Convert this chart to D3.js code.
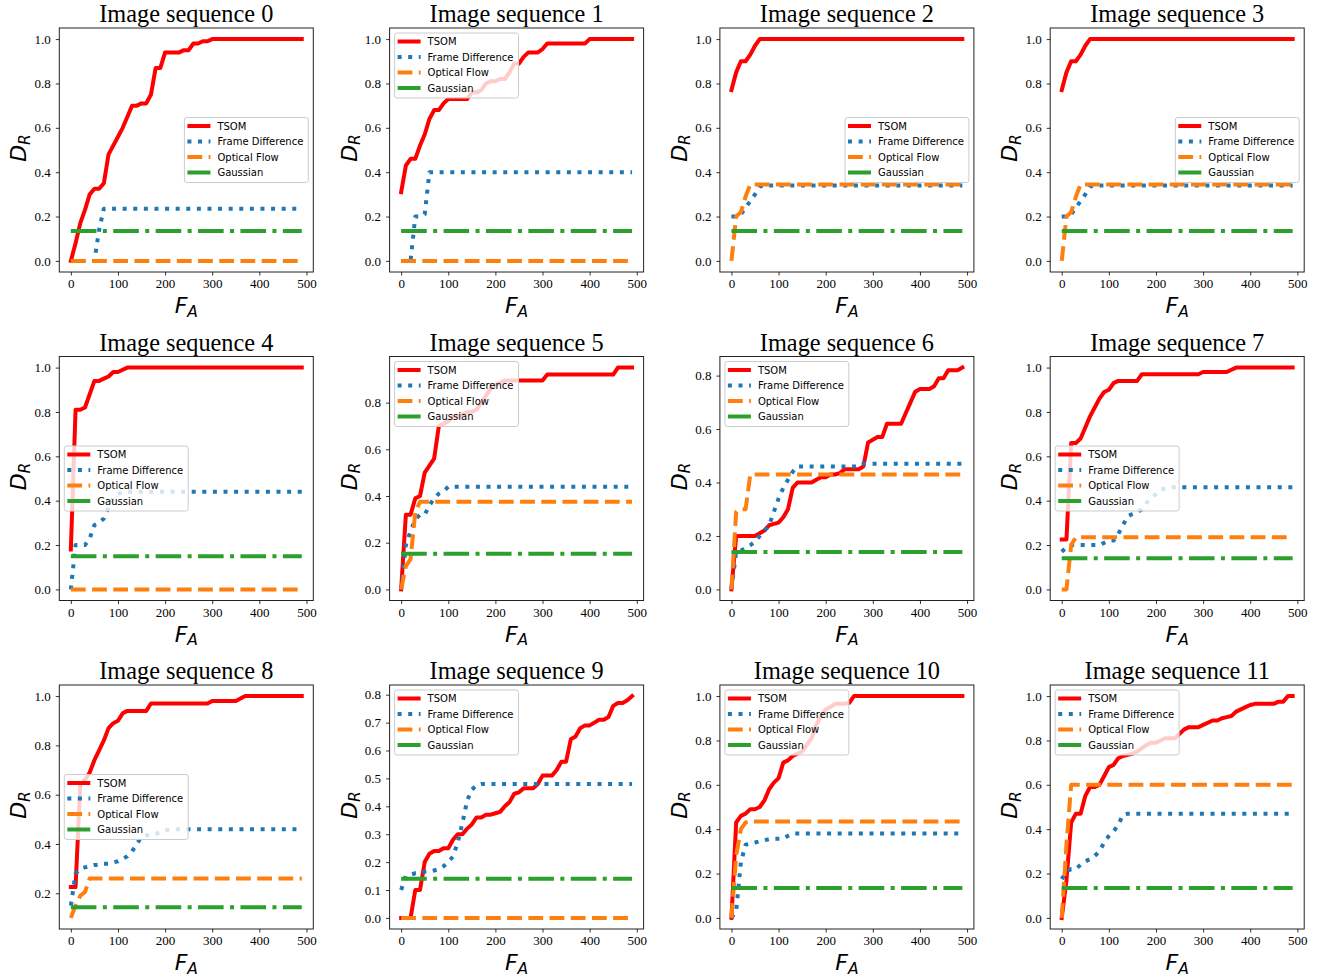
<!DOCTYPE html>
<html><head><meta charset="utf-8">
<script src="https://cdn.jsdelivr.net/npm/d3@7"></script>
<style>body{margin:0;background:#fff}svg{display:block}
.tick text{font-family:"Liberation Serif","Times New Roman",serif;font-size:13px}</style>
</head><body>
<svg id="chart" width="1329" height="979"></svg>
<script>
// ---------------- DATA ----------------
const fa = [0,10,20,30,40,50,60,70,80,90,100,110,120,130,140,150,160,170,180,190,
  200,210,220,230,240,250,260,270,280,290,300,310,320,330,340,350,360,370,380,390,
  400,410,420,430,440,450,460,470,480,490];

const titles = ["Image sequence 0","Image sequence 1","Image sequence 2","Image sequence 3",
  "Image sequence 4","Image sequence 5","Image sequence 6","Image sequence 7",
  "Image sequence 8","Image sequence 9","Image sequence 10","Image sequence 11"];

const seriesNames = ["TSOM","Frame Difference","Optical Flow","Gaussian"];

const tsom = [
 [0,0.08,0.17,0.23,0.30,0.325,0.325,0.35,0.48,0.52,
  0.56,0.60,0.65,0.70,0.70,0.71,0.71,0.75,0.87,0.87,
  0.94,0.94,0.94,0.94,0.95,0.95,0.98,0.98,0.99,0.99,
  1,1,1,1,1,1,1,1,1,1, 1,1,1,1,1,1,1,1,1,1],
 [0.31,0.43,0.46,0.46,0.52,0.57,0.64,0.68,0.68,0.71,
  0.73,0.73,0.73,0.73,0.73,0.76,0.76,0.77,0.80,0.81,
  0.81,0.82,0.82,0.85,0.89,0.89,0.92,0.94,0.94,0.94,
  0.955,0.98,0.98,0.98,0.98,0.98,0.98,0.98,0.98,0.98,
  1,1,1,1,1,1,1,1,1,1],
 [0.77,0.85,0.90,0.90,0.93,0.97,1,1,1,1, 1,1,1,1,1,1,1,1,1,1,
  1,1,1,1,1,1,1,1,1,1, 1,1,1,1,1,1,1,1,1,1, 1,1,1,1,1,1,1,1,1,1],
 [0.77,0.85,0.90,0.90,0.93,0.97,1,1,1,1, 1,1,1,1,1,1,1,1,1,1,
  1,1,1,1,1,1,1,1,1,1, 1,1,1,1,1,1,1,1,1,1, 1,1,1,1,1,1,1,1,1,1],
 [0.18,0.81,0.81,0.82,0.88,0.94,0.94,0.95,0.96,0.98,
  0.98,0.99,1,1,1,1,1,1,1,1, 1,1,1,1,1,1,1,1,1,1,
  1,1,1,1,1,1,1,1,1,1, 1,1,1,1,1,1,1,1,1,1],
 [0,0.32,0.32,0.39,0.40,0.50,0.53,0.56,0.70,0.71,
  0.72,0.74,0.74,0.75,0.76,0.76,0.77,0.80,0.83,0.86,
  0.875,0.885,0.895,0.895,0.895,0.895,0.895,0.895,0.895,0.895,
  0.895,0.92,0.92,0.92,0.92,0.92,0.92,0.92,0.92,0.92,
  0.92,0.92,0.92,0.92,0.92,0.92,0.95,0.95,0.95,0.95],
 [0,0.20,0.20,0.20,0.20,0.20,0.21,0.22,0.24,0.245,
  0.25,0.27,0.30,0.38,0.40,0.40,0.40,0.40,0.41,0.42,
  0.42,0.43,0.43,0.435,0.45,0.45,0.45,0.45,0.46,0.55,
  0.56,0.57,0.57,0.62,0.62,0.62,0.62,0.66,0.70,0.74,
  0.75,0.75,0.75,0.76,0.79,0.79,0.82,0.82,0.82,0.83],
 [0.225,0.225,0.66,0.66,0.68,0.73,0.78,0.82,0.86,0.89,
  0.90,0.93,0.94,0.94,0.94,0.94,0.94,0.97,0.97,0.97,
  0.97,0.97,0.97,0.97,0.97,0.97,0.97,0.97,0.97,0.97,
  0.98,0.98,0.98,0.98,0.98,0.98,0.99,1,1,1,
  1,1,1,1,1,1,1,1,1,1],
 [0.225,0.225,0.64,0.66,0.69,0.74,0.78,0.82,0.87,0.89,
  0.90,0.93,0.94,0.94,0.94,0.94,0.94,0.97,0.97,0.97,
  0.97,0.97,0.97,0.97,0.97,0.97,0.97,0.97,0.97,0.97,
  0.98,0.98,0.98,0.98,0.98,0.98,0.99,1,1,1,
  1,1,1,1,1,1,1,1,1,1],
 [0,0,0,0.10,0.10,0.20,0.23,0.24,0.24,0.25,
  0.25,0.28,0.30,0.30,0.32,0.335,0.36,0.36,0.37,0.37,
  0.375,0.38,0.40,0.415,0.445,0.45,0.465,0.465,0.465,0.48,
  0.51,0.51,0.51,0.53,0.56,0.56,0.64,0.65,0.68,0.69,
  0.69,0.70,0.71,0.71,0.72,0.76,0.77,0.77,0.78,0.795],
 [0,0.43,0.46,0.47,0.49,0.49,0.50,0.53,0.58,0.61,
  0.63,0.70,0.71,0.73,0.74,0.75,0.78,0.81,0.87,0.91,
  0.94,0.95,0.965,0.965,0.965,0.97,1,1,1,1,
  1,1,1,1,1,1,1,1,1,1, 1,1,1,1,1,1,1,1,1,1],
 [0,0.17,0.43,0.47,0.47,0.55,0.59,0.59,0.60,0.64,
  0.68,0.69,0.72,0.73,0.735,0.74,0.75,0.765,0.78,0.79,
  0.79,0.80,0.81,0.81,0.81,0.83,0.85,0.86,0.86,0.86,
  0.87,0.88,0.89,0.89,0.90,0.905,0.91,0.93,0.94,0.95,
  0.96,0.965,0.965,0.965,0.965,0.965,0.975,0.975,1,1]
];

const frameDiff = [
 [0,0,0,0,0,0,0.14,0.235,0.235,0.235,
  0.235,0.235,0.235,0.235,0.235,0.235,0.235,0.235,0.235,0.235,
  0.235,0.235,0.235,0.235,0.235,0.235,0.235,0.235,0.235,0.235,
  0.235,0.235,0.235,0.235,0.235,0.235,0.235,0.235,0.235,0.235,
  0.235,0.235,0.235,0.235,0.235,0.235,0.235,0.235,0.235,0.235],
 [0,0,0,0.20,0.20,0.21,0.40,0.40,0.40,0.40,
  0.40,0.40,0.40,0.40,0.40,0.40,0.40,0.40,0.40,0.40,
  0.40,0.40,0.40,0.40,0.40,0.40,0.40,0.40,0.40,0.40,
  0.40,0.40,0.40,0.40,0.40,0.40,0.40,0.40,0.40,0.40,
  0.40,0.40,0.40,0.40,0.40,0.40,0.40,0.40,0.40,0.40],
 [0.20,0.20,0.21,0.24,0.27,0.30,0.335,0.34,0.34,0.34,
  0.34,0.34,0.34,0.34,0.34,0.34,0.34,0.34,0.34,0.34,
  0.34,0.34,0.34,0.34,0.34,0.34,0.34,0.34,0.34,0.34,
  0.34,0.34,0.34,0.34,0.34,0.34,0.34,0.34,0.34,0.34,
  0.34,0.34,0.34,0.34,0.34,0.34,0.34,0.34,0.34,0.34],
 [0.20,0.20,0.21,0.24,0.27,0.30,0.335,0.34,0.34,0.34,
  0.34,0.34,0.34,0.34,0.34,0.34,0.34,0.34,0.34,0.34,
  0.34,0.34,0.34,0.34,0.34,0.34,0.34,0.34,0.34,0.34,
  0.34,0.34,0.34,0.34,0.34,0.34,0.34,0.34,0.34,0.34,
  0.34,0.34,0.34,0.34,0.34,0.34,0.34,0.34,0.34,0.34],
 [0,0.20,0.20,0.20,0.23,0.29,0.30,0.32,0.37,0.41,
  0.43,0.44,0.44,0.44,0.44,0.44,0.44,0.44,0.44,0.44,
  0.44,0.44,0.44,0.44,0.44,0.44,0.44,0.44,0.44,0.44,
  0.44,0.44,0.44,0.44,0.44,0.44,0.44,0.44,0.44,0.44,
  0.44,0.44,0.44,0.44,0.44,0.44,0.44,0.44,0.44,0.44],
 [0,0.19,0.25,0.30,0.32,0.32,0.36,0.39,0.41,0.42,
  0.44,0.44,0.44,0.44,0.44,0.44,0.44,0.44,0.44,0.44,
  0.44,0.44,0.44,0.44,0.44,0.44,0.44,0.44,0.44,0.44,
  0.44,0.44,0.44,0.44,0.44,0.44,0.44,0.44,0.44,0.44,
  0.44,0.44,0.44,0.44,0.44,0.44,0.44,0.44,0.44,0.44],
 [0,0.14,0.145,0.155,0.165,0.18,0.20,0.22,0.24,0.29,
  0.34,0.38,0.41,0.44,0.46,0.46,0.46,0.46,0.46,0.46,
  0.46,0.46,0.46,0.46,0.46,0.46,0.46,0.46,0.47,0.47,
  0.47,0.47,0.47,0.47,0.47,0.47,0.47,0.47,0.47,0.47,
  0.47,0.47,0.47,0.47,0.47,0.47,0.47,0.47,0.47,0.47],
 [0.17,0.19,0.20,0.20,0.20,0.20,0.20,0.20,0.20,0.21,
  0.22,0.22,0.25,0.29,0.33,0.34,0.35,0.36,0.39,0.41,
  0.43,0.45,0.455,0.46,0.46,0.46,0.46,0.46,0.46,0.46,
  0.46,0.46,0.46,0.46,0.46,0.46,0.46,0.46,0.46,0.46,
  0.46,0.46,0.46,0.46,0.46,0.46,0.46,0.46,0.46,0.46],
 [0.15,0.28,0.30,0.305,0.31,0.315,0.315,0.32,0.32,0.325,
  0.33,0.34,0.35,0.37,0.40,0.43,0.435,0.435,0.44,0.45,
  0.455,0.46,0.46,0.46,0.46,0.46,0.46,0.46,0.46,0.46,
  0.46,0.46,0.46,0.46,0.46,0.46,0.46,0.46,0.46,0.46,
  0.46,0.46,0.46,0.46,0.46,0.46,0.46,0.46,0.46,0.46],
 [0.10,0.15,0.155,0.16,0.16,0.165,0.165,0.17,0.175,0.185,
  0.20,0.22,0.27,0.34,0.42,0.46,0.475,0.48,0.48,0.48,
  0.48,0.48,0.48,0.48,0.48,0.48,0.48,0.48,0.48,0.48,
  0.48,0.48,0.48,0.48,0.48,0.48,0.48,0.48,0.48,0.48,
  0.48,0.48,0.48,0.48,0.48,0.48,0.48,0.48,0.48,0.48],
 [0,0.03,0.25,0.33,0.335,0.34,0.345,0.35,0.355,0.357,
  0.357,0.357,0.37,0.38,0.38,0.38,0.38,0.38,0.38,0.38,
  0.38,0.38,0.38,0.38,0.38,0.38,0.38,0.38,0.38,0.38,
  0.38,0.38,0.38,0.38,0.38,0.38,0.38,0.38,0.38,0.38,
  0.38,0.38,0.38,0.38,0.38,0.38,0.38,0.38,0.38,0.38],
 [0.175,0.21,0.22,0.22,0.24,0.255,0.265,0.28,0.30,0.34,
  0.37,0.39,0.42,0.465,0.47,0.47,0.47,0.47,0.47,0.47,
  0.47,0.47,0.47,0.47,0.47,0.47,0.47,0.47,0.47,0.47,
  0.47,0.47,0.47,0.47,0.47,0.47,0.47,0.47,0.47,0.47,
  0.47,0.47,0.47,0.47,0.47,0.47,0.47,0.47,0.47,0.47]
];

const opticalFlow = [
 [0,0,0,0,0,0,0,0,0,0, 0,0,0,0,0,0,0,0,0,0, 0,0,0,0,0,0,0,0,0,0, 0,0,0,0,0,0,0,0,0,0, 0,0,0,0,0,0,0,0,0,0],
 [0,0,0,0,0,0,0,0,0,0, 0,0,0,0,0,0,0,0,0,0, 0,0,0,0,0,0,0,0,0,0, 0,0,0,0,0,0,0,0,0,0, 0,0,0,0,0,0,0,0,0,0],
 [0,0.20,0.22,0.29,0.345,0.345,0.345,0.345,0.345,0.345,
  0.345,0.345,0.345,0.345,0.345,0.345,0.345,0.345,0.345,0.345,
  0.345,0.345,0.345,0.345,0.345,0.345,0.345,0.345,0.345,0.345,
  0.345,0.345,0.345,0.345,0.345,0.345,0.345,0.345,0.345,0.345,
  0.345,0.345,0.345,0.345,0.345,0.345,0.345,0.345,0.345,0.345],
 [0,0.20,0.22,0.29,0.345,0.345,0.345,0.345,0.345,0.345,
  0.345,0.345,0.345,0.345,0.345,0.345,0.345,0.345,0.345,0.345,
  0.345,0.345,0.345,0.345,0.345,0.345,0.345,0.345,0.345,0.345,
  0.345,0.345,0.345,0.345,0.345,0.345,0.345,0.345,0.345,0.345,
  0.345,0.345,0.345,0.345,0.345,0.345,0.345,0.345,0.345,0.345],
 [0,0,0,0,0,0,0,0,0,0, 0,0,0,0,0,0,0,0,0,0, 0,0,0,0,0,0,0,0,0,0, 0,0,0,0,0,0,0,0,0,0, 0,0,0,0,0,0,0,0,0,0],
 [0,0.10,0.13,0.33,0.375,0.375,0.375,0.375,0.375,0.375,
  0.375,0.375,0.375,0.375,0.375,0.375,0.375,0.375,0.375,0.375,
  0.375,0.375,0.375,0.375,0.375,0.375,0.375,0.375,0.375,0.375,
  0.375,0.375,0.375,0.375,0.375,0.375,0.375,0.375,0.375,0.375,
  0.375,0.375,0.375,0.375,0.375,0.375,0.375,0.375,0.375,0.375],
 [0,0.29,0.30,0.30,0.43,0.43,0.43,0.43,0.43,0.43,
  0.43,0.43,0.43,0.43,0.43,0.43,0.43,0.43,0.43,0.43,
  0.43,0.43,0.43,0.43,0.43,0.43,0.43,0.43,0.43,0.43,
  0.43,0.43,0.43,0.43,0.43,0.43,0.43,0.43,0.43,0.43,
  0.43,0.43,0.43,0.43,0.43,0.43,0.43,0.43,0.43,0.43],
 [0,0,0.20,0.235,0.235,0.235,0.235,0.235,0.235,0.235,
  0.235,0.235,0.235,0.235,0.235,0.235,0.235,0.235,0.235,0.235,
  0.235,0.235,0.235,0.235,0.235,0.235,0.235,0.235,0.235,0.235,
  0.235,0.235,0.235,0.235,0.235,0.235,0.235,0.235,0.235,0.235,
  0.235,0.235,0.235,0.235,0.235,0.235,0.235,0.235,0.235,0.235],
 [0.10,0.15,0.19,0.205,0.26,0.26,0.26,0.26,0.26,0.26,
  0.26,0.26,0.26,0.26,0.26,0.26,0.26,0.26,0.26,0.26,
  0.26,0.26,0.26,0.26,0.26,0.26,0.26,0.26,0.26,0.26,
  0.26,0.26,0.26,0.26,0.26,0.26,0.26,0.26,0.26,0.26,
  0.26,0.26,0.26,0.26,0.26,0.26,0.26,0.26,0.26,0.26],
 [0,0,0,0,0,0,0,0,0,0, 0,0,0,0,0,0,0,0,0,0, 0,0,0,0,0,0,0,0,0,0, 0,0,0,0,0,0,0,0,0,0, 0,0,0,0,0,0,0,0,0,0],
 [0,0.28,0.40,0.43,0.435,0.435,0.435,0.435,0.435,0.435,
  0.435,0.435,0.435,0.435,0.435,0.435,0.435,0.435,0.435,0.435,
  0.435,0.435,0.435,0.435,0.435,0.435,0.435,0.435,0.435,0.435,
  0.435,0.435,0.435,0.435,0.435,0.435,0.435,0.435,0.435,0.435,
  0.435,0.435,0.435,0.435,0.435,0.435,0.435,0.435,0.435,0.435],
 [0,0.33,0.60,0.60,0.60,0.60,0.60,0.60,0.60,0.60,
  0.60,0.60,0.60,0.60,0.60,0.60,0.60,0.60,0.60,0.60,
  0.60,0.60,0.60,0.60,0.60,0.60,0.60,0.60,0.60,0.60,
  0.60,0.60,0.60,0.60,0.60,0.60,0.60,0.60,0.60,0.60,
  0.60,0.60,0.60,0.60,0.60,0.60,0.60,0.60,0.60,0.60]
];

// Gaussian baseline: constant detection rate per sequence
const gaussianLevel = [0.135,0.135,0.135,0.135,0.15,0.153,0.14,0.14,0.143,0.14,0.135,0.135];

const xTickValues = [0,100,200,300,400,500];
const yTickValues = [
 [0,0.2,0.4,0.6,0.8,1.0],[0,0.2,0.4,0.6,0.8,1.0],[0,0.2,0.4,0.6,0.8,1.0],[0,0.2,0.4,0.6,0.8,1.0],
 [0,0.2,0.4,0.6,0.8,1.0],[0,0.2,0.4,0.6,0.8],[0,0.2,0.4,0.6,0.8],[0,0.2,0.4,0.6,0.8,1.0],
 [0.2,0.4,0.6,0.8,1.0],[0,0.1,0.2,0.3,0.4,0.5,0.6,0.7,0.8],[0,0.2,0.4,0.6,0.8,1.0],[0,0.2,0.4,0.6,0.8,1.0]
];

const legendLoc = ["center right","upper left","center right","center right",
  "center left","upper left","upper left","center left",
  "center left","upper left","upper left","upper left"];

// ---------------- LAYOUT / STYLE ----------------
const colors = ["#ff0000","#1f77b4","#ff7f0e","#2ca02c"];
const dashes = [null,"4 6.6","14.8 6.4","25.6 6.4 4 6.4"];
const LW = 4;
const W = 254, H = 244;
const lefts = [59.3, 389.6, 719.9, 1050.2];
const tops = [28, 356.5, 685];
const SERIF = "'Liberation Serif','Times New Roman',serif";

const svg = d3.select("#chart");

// measure legend text width
const meas = svg.append("text").attr("font-family","DejaVu Sans").attr("font-size",10).text("Frame Difference");
const legTextW = meas.node().getComputedTextLength();
meas.remove();

titles.forEach((title, i) => {
  const r = Math.floor(i / 4), c = i % 4;
  const g = svg.append("g").attr("transform", `translate(${lefts[c]},${tops[r]})`);

  const pts = [
    fa.map((x, k) => [x, tsom[i][k]]),
    fa.map((x, k) => [x, frameDiff[i][k]]),
    fa.map((x, k) => [x, opticalFlow[i][k]]),
    [[fa[0], gaussianLevel[i]], [fa[fa.length - 1], gaussianLevel[i]]]
  ];
  const allY = pts.flat().map(d => d[1]);
  const yMin = d3.min(allY), yMax = d3.max(allY);
  const xMin = fa[0], xMax = fa[fa.length - 1];
  const xs = d3.scaleLinear().domain([xMin - 0.05*(xMax-xMin), xMax + 0.05*(xMax-xMin)]).range([0, W]);
  const ys = d3.scaleLinear().domain([yMin - 0.05*(yMax-yMin), yMax + 0.05*(yMax-yMin)]).range([H, 0]);

  const clipId = "clip" + i;
  g.append("clipPath").attr("id", clipId).append("rect").attr("width", W).attr("height", H);

  const line = d3.line().x(d => xs(d[0])).y(d => ys(d[1]));
  const lg = g.append("g").attr("clip-path", `url(#${clipId})`);
  pts.forEach((p, s) => {
    lg.append("path").datum(p).attr("d", line)
      .attr("fill", "none").attr("stroke", colors[s]).attr("stroke-width", LW)
      .attr("stroke-linejoin", "round")
      .attr("stroke-linecap", s === 0 ? "square" : "butt")
      .attr("stroke-dasharray", dashes[s]);
  });

  // frame
  g.append("rect").attr("width", W).attr("height", H)
    .attr("fill", "none").attr("stroke", "#222").attr("stroke-width", 1);

  // axes
  const xa = g.append("g").attr("transform", `translate(0,${H})`)
    .call(d3.axisBottom(xs).tickValues(xTickValues).tickFormat(d3.format("d")).tickSize(3.5).tickPadding(3.6));
  const ya = g.append("g")
    .call(d3.axisLeft(ys).tickValues(yTickValues[i]).tickFormat(d3.format(".1f")).tickSize(3.5).tickPadding(5));
  [xa, ya].forEach(a => {
    a.attr("font-family", SERIF).attr("font-size", 13);
    a.select(".domain").remove();
    a.selectAll(".tick line").attr("stroke", "#000").attr("stroke-width", 0.8);
    a.selectAll(".tick text").attr("font-family", SERIF).attr("font-size", 13).attr("fill", "#000");
  });

  // title
  g.append("text").attr("x", W/2).attr("y", -6).attr("text-anchor", "middle")
    .attr("font-family", SERIF).attr("font-size", 24.3)
    .attr("fill", "#000").text(title);

  // x label F_A
  const xl = g.append("text").attr("x", W/2).attr("y", H + 41).attr("text-anchor", "middle")
    .attr("font-family", "DejaVu Sans").attr("font-style", "italic").attr("font-size", 22).attr("fill", "#000");
  xl.append("tspan").text("F");
  xl.append("tspan").attr("font-size", 15.5).attr("dy", 3.5).text("A");

  // y label D_R
  const yl = g.append("text").attr("transform", `translate(-33,${H/2 - 2}) rotate(-90)`).attr("text-anchor", "middle")
    .attr("font-family", "DejaVu Sans").attr("font-style", "italic").attr("font-size", 22).attr("fill", "#000");
  yl.append("tspan").text("D");
  yl.append("tspan").attr("font-size", 15.5).attr("dy", 3.5).text("R");

  // legend
  const bw = 33 + legTextW + 5, bh = 65;
  const loc = legendLoc[i];
  const bx = loc.endsWith("right") ? W - 5 - bw : 5;
  const by = loc.startsWith("upper") ? 5 : (H - bh) / 2;
  const leg = g.append("g").attr("transform", `translate(${bx},${by})`);
  leg.append("rect").attr("width", bw).attr("height", bh).attr("rx", 2.5)
    .attr("fill", "#fff").attr("fill-opacity", 0.8).attr("stroke", "#cccccc").attr("stroke-width", 1);
  seriesNames.forEach((name, s) => {
    const cy = 8.5 + s * 15.5;
    leg.append("line").attr("x1", 3).attr("x2", 26).attr("y1", cy).attr("y2", cy)
      .attr("stroke", colors[s]).attr("stroke-width", LW)
      .attr("stroke-linecap", "butt").attr("stroke-dasharray", dashes[s]);
    leg.append("text").attr("x", 33).attr("y", cy + 3.6)
      .attr("font-family", "DejaVu Sans").attr("font-size", 10).attr("fill", "#000").text(name);
  });
});
</script>
</body></html>
